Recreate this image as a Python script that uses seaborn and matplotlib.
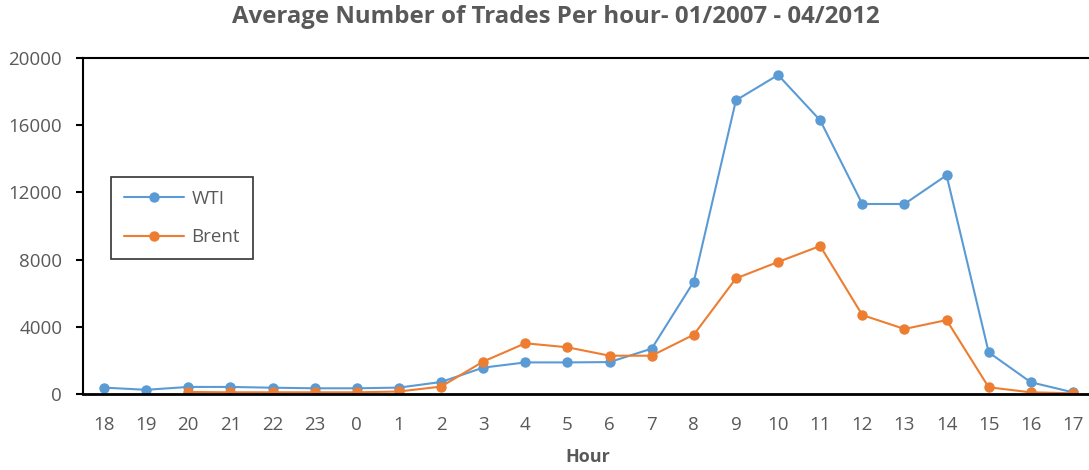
import matplotlib
matplotlib.use("Agg")
import matplotlib.pyplot as plt
import seaborn as sns
import pandas as pd
import numpy as np

hours = ["18", "19", "20", "21", "22", "23", "0", "1", "2", "3", "4", "5",
         "6", "7", "8", "9", "10", "11", "12", "13", "14", "15", "16", "17"]
wti = [380, 250, 420, 420, 375, 340, 340, 380, 714, 1570, 1880, 1880,
       1900, 2700, 6690, 17480, 18990, 16290, 11310, 11310, 13020, 2480, 700, 100]
brent = [np.nan, np.nan, 120, 100, 100, 100, 100, 150, 440, 1930, 3020, 2780,
         2280, 2280, 3530, 6880, 7860, 8810, 4700, 3870, 4400, 400, 100, 40]
yticks = [0, 4000, 8000, 12000, 16000, 20000]

df = pd.DataFrame({
    "pos": list(range(len(hours))) * 2,
    "value": wti + brent,
    "series": ["WTI"] * len(hours) + ["Brent"] * len(hours),
})

sns.set_style("white")
plt.rcParams["font.family"] = ["Open Sans", "DejaVu Sans"]

gray = "#595959"
fig = plt.figure(figsize=(10.89, 4.70), dpi=100)
ax = fig.add_axes([83/1089, 1-394/470, (1094-83)/1089, (394-58)/470])

sns.lineplot(data=df.dropna(), x="pos", y="value", hue="series",
             palette={"WTI": "#5B9BD5", "Brent": "#ED7D31"},
             marker="o", markersize=7.5, markeredgewidth=0, linewidth=1.5,
             ax=ax, legend=True)

ax.set_xlim(-0.5, len(hours) - 0.5)
ax.set_ylim(0, 20000)
ax.set_xticks(range(len(hours)))
ax.set_xticklabels(hours)
ax.set_xticks(np.arange(0.5, len(hours) - 0.5, 1), minor=True)
ax.set_yticks(yticks)
ax.set_yticklabels([str(v) for v in yticks])
ax.tick_params(axis="x", which="major", length=0, pad=16, labelsize=13.5, labelcolor=gray)
ax.tick_params(axis="x", which="minor", direction="in", length=6, width=1.5, color="black")
ax.tick_params(axis="y", which="major", direction="out", length=5, width=1.5, color="black",
               pad=10, labelsize=13.5, labelcolor=gray, left=True)

for side in ["left", "top", "bottom"]:
    ax.spines[side].set_color("black")
ax.spines["left"].set_linewidth(1.5)
ax.spines["top"].set_linewidth(1.5)
ax.spines["bottom"].set_linewidth(2)
ax.spines["right"].set_visible(False)

ax.set_xlabel("")
ax.set_ylabel("")
fig.text(588/1089, 1-457/470, "Hour", ha="center", va="center",
         fontsize=13, fontweight="bold", color=gray)
fig.text(556/1089, 1-17/470, "Average Number of Trades Per hour- 01/2007 - 04/2012",
         ha="center", va="center", fontsize=17.3, fontweight="bold", color=gray)

handles, labels = ax.get_legend_handles_labels()
leg = ax.legend(handles, labels, loc="upper left",
                bbox_to_anchor=(111/1089, 1-177/470), bbox_transform=fig.transFigure,
                frameon=True, fancybox=False, edgecolor="black", fontsize=13.5,
                labelspacing=1.1, borderpad=0.68, handlelength=3.2, handletextpad=0.4,
                borderaxespad=0)
leg.get_frame().set_linewidth(1.2)
for t in leg.get_texts():
    t.set_color(gray)

fig.savefig("out.png", dpi=100)
